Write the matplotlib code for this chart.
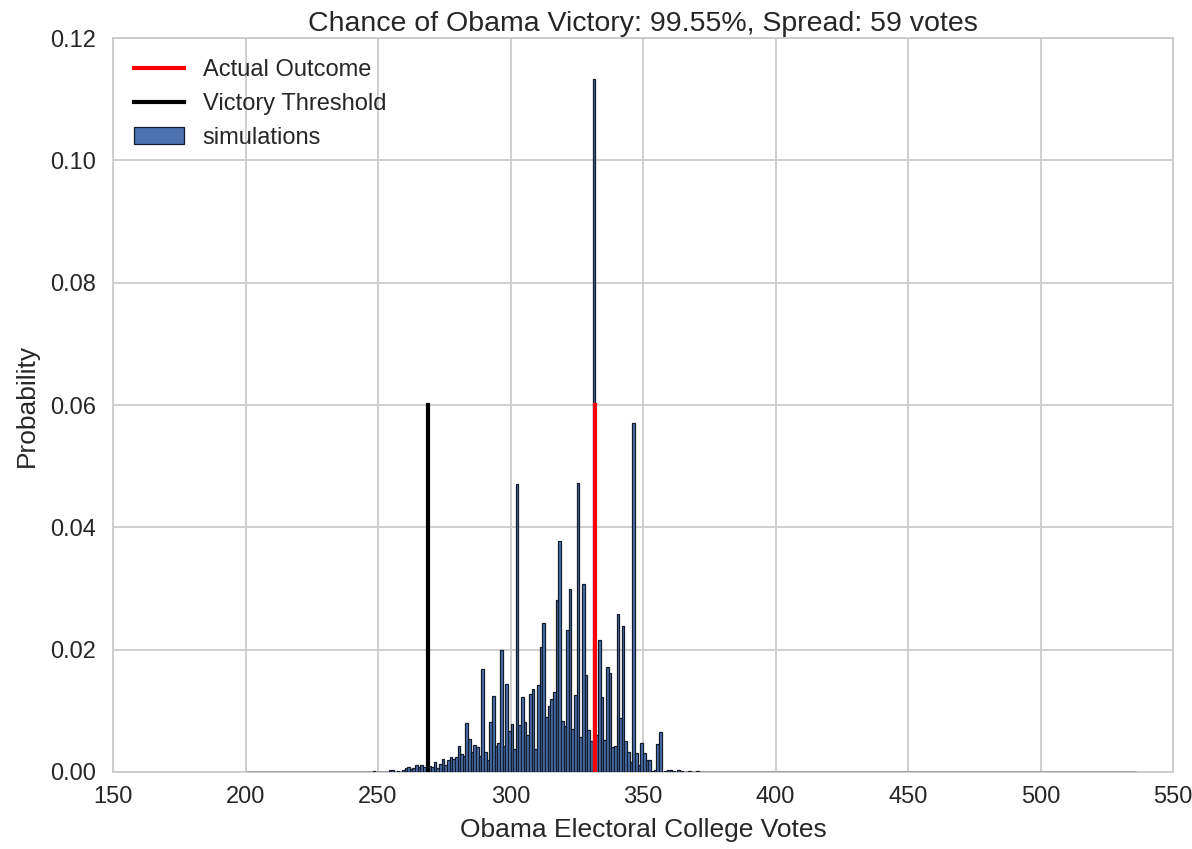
import numpy as np
import matplotlib
matplotlib.use("Agg")
import matplotlib.pyplot as plt
from matplotlib.ticker import FormatStrFormatter

# simulated distribution of Obama electoral votes (probability per vote count)
votes = [248, 254, 255, 257,
         259, 260, 261, 262, 263, 264, 265, 266, 267, 268, 269,
         270, 271, 272, 273, 274, 275, 276, 277, 278, 279,
         280, 281, 282, 283, 284, 285, 286, 287, 288, 289,
         290, 291, 292, 293, 294, 295, 296, 297, 298, 299,
         300, 301, 302, 303, 304, 305, 306, 307, 308, 309,
         310, 311, 312, 313, 314, 315, 316, 317, 318, 319,
         320, 321, 322, 323, 324, 325, 326, 327, 328, 329,
         330, 331, 332, 333, 334, 335, 336, 337, 338, 339,
         340, 341, 342, 343, 344, 345, 346, 347, 348, 349,
         350, 351, 352, 353, 354, 355, 356,
         358, 359, 360, 361, 363, 364, 367, 370]
probs = [0.0002, 0.0003, 0.0003, 0.0002,
         0.0004, 0.0007, 0.0008, 0.0005, 0.0006, 0.0012, 0.0008, 0.0012, 0.0008, 0.0005, 0.0009,
         0.0008, 0.0017, 0.0006, 0.0013, 0.0022, 0.0012, 0.0019, 0.0024, 0.0021, 0.0024,
         0.0043, 0.0029, 0.0026, 0.0080, 0.0054, 0.0032, 0.0044, 0.0041, 0.0026, 0.0168,
         0.0033, 0.0020, 0.0082, 0.0124, 0.0042, 0.0048, 0.0200, 0.0042, 0.0144, 0.0067,
         0.0078, 0.0038, 0.0471, 0.0077, 0.0122, 0.0082, 0.0060, 0.0127, 0.0136, 0.0037,
         0.0142, 0.0204, 0.0244, 0.0090, 0.0108, 0.0120, 0.0131, 0.0281, 0.0377, 0.0084,
         0.0075, 0.0232, 0.0300, 0.0071, 0.0126, 0.0473, 0.0058, 0.0308, 0.0159, 0.0069,
         0.0051, 0.1133, 0.0060, 0.0215, 0.0123, 0.0053, 0.0172, 0.0162, 0.0041, 0.0043,
         0.0258, 0.0088, 0.0239, 0.0050, 0.0033, 0.0017, 0.0570, 0.0031, 0.0012, 0.0048,
         0.0031, 0.0020, 0.0019, 0.0002, 0.0003, 0.0046, 0.0065,
         0.0002, 0.0003, 0.0004, 0.0002, 0.0003, 0.0002, 0.0002, 0.0002]

actual_outcome = 332
victory_threshold = 269
title = "Chance of Obama Victory: 99.55%, Spread: 59 votes"

GRID = "#cccccc"
TEXT = "#262626"
EDGE = "#141c2c"

plt.rcParams['font.family'] = ['Liberation Sans', 'DejaVu Sans']

fig = plt.figure(figsize=(11.92, 8.49), dpi=100)
ax = fig.add_axes([0.0948, 0.0907, 0.8893, 0.8645])

bins = np.arange(200, 537)
ax.hist(votes, bins=bins, weights=probs, color="#4C72B0",
        edgecolor=EDGE, linewidth=0.9, label="simulations", zorder=3)
# empty bins still show their edge along the baseline
ax.hlines(0, bins[0], bins[-1], color=EDGE, lw=1.0, alpha=0.75, zorder=3)
ax.plot([actual_outcome, actual_outcome], [0, 0.06], color="red", lw=3,
        label="Actual Outcome", zorder=4)
ax.plot([victory_threshold, victory_threshold], [0, 0.06], color="black", lw=3,
        label="Victory Threshold", zorder=4)

ax.set_xlim(150, 550)
ax.set_ylim(0, 0.12)
ax.set_xticks(np.arange(150, 551, 50))
ax.set_yticks(np.arange(0, 0.121, 0.02))
ax.yaxis.set_major_formatter(FormatStrFormatter("%.2f"))
ax.grid(True, color=GRID, lw=1.3, zorder=0)
ax.set_axisbelow(True)
for s in ax.spines.values():
    s.set_color(GRID)
    s.set_linewidth(1.3)
ax.tick_params(length=0, labelsize=17, colors=TEXT)
ax.tick_params(axis="y", pad=12)
ax.tick_params(axis="x", pad=10)

ax.set_xlabel("Obama Electoral College Votes", fontsize=19, color=TEXT, labelpad=7)
ax.set_ylabel("Probability", fontsize=19, color=TEXT, labelpad=8)
ax.set_title(title, fontsize=20.5, color=TEXT, pad=5)

h, l = ax.get_legend_handles_labels()
order = [l.index("Actual Outcome"), l.index("Victory Threshold"), l.index("simulations")]
ax.legend([h[i] for i in order], [l[i] for i in order], loc="upper left",
          frameon=False, fontsize=17, handlelength=2.1, handletextpad=0.8,
          labelcolor=TEXT, borderaxespad=0.5, labelspacing=0.5)

fig.savefig("out.png", dpi=100)
